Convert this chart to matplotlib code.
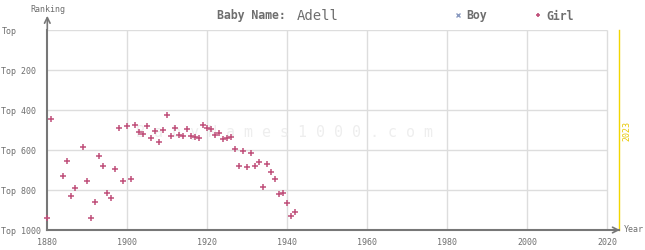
import matplotlib
matplotlib.use("Agg")
import matplotlib.pyplot as plt
from matplotlib.lines import Line2D

# girl ranks for "Adell" (no boy ranks shown)
girl_years = [1880, 1881, 1884, 1885, 1886, 1887, 1889, 1890, 1891, 1892,
              1893, 1894, 1895, 1896, 1897, 1898, 1899, 1900, 1901, 1902,
              1903, 1904, 1905, 1906, 1907, 1908, 1909, 1910, 1911, 1912,
              1913, 1914, 1915, 1916, 1917, 1918, 1919, 1920, 1921, 1922,
              1923, 1924, 1925, 1926, 1927, 1928, 1929, 1930, 1931, 1932,
              1933, 1934, 1935, 1936, 1937, 1938, 1939, 1940, 1941, 1942]
girl_ranks = [942, 447, 732, 657, 832, 792, 587, 755, 942, 862,
              632, 682, 817, 842, 697, 492, 755, 480, 747, 477,
              512, 518, 482, 542, 507, 562, 502, 427, 532, 492,
              527, 532, 497, 532, 537, 542, 477, 492, 497, 527,
              517, 547, 542, 537, 597, 682, 607, 687, 617, 682,
              662, 787, 672, 712, 747, 822, 817, 867, 932, 912]

x_ticks = [1880, 1900, 1920, 1940, 1960, 1980, 2000, 2020]
y_ticks = [0, 200, 400, 600, 800, 1000]
y_labels = ["Top", "Top 200", "Top 400", "Top 600", "Top 800", "Top 1000"]

girl_color = "#c0507a"
boy_color = "#8a9ac0"
text_color = "#6e6e6e"
grid_color = "#dddddd"
axis_color = "#777777"
mono = "DejaVu Sans Mono"

W, H = 645, 250
fig = plt.figure(figsize=(W / 100, H / 100), dpi=100)
ax = fig.add_axes([47.3 / W, 20 / H, 572 / W, 200 / H])
ax.set_xlim(1880, 2023)
ax.set_ylim(1000, 0)

# grid, stopping at 2020
ax.hlines(y_ticks[:-1], 1880, 2020, color=grid_color, lw=1, zorder=0)
ax.vlines(x_ticks[1:], 0, 1000, color=grid_color, lw=1, zorder=0)

# watermark
ax.text(1939.4, 510, "B a b y N a m e s 1 0 0 0 . c o m", fontsize=10.8,
        family=mono, color="#eeeeee", ha="center", va="center", zorder=0)

# 2023 marker line
ax.axvline(2023, color="#f2d600", lw=1, clip_on=False)
ax.text(2024.9, 505, "2023", rotation=90, fontsize=6, family=mono,
        color="#e8c800", ha="center", va="center")

ax.plot(girl_years, girl_ranks, ls="", marker="+", color=girl_color,
        markersize=4.5, mew=1.1, zorder=3, clip_on=False)

for s in ["top", "right"]:
    ax.spines[s].set_visible(False)
for s in ["left", "bottom"]:
    ax.spines[s].set_color(axis_color)
    ax.spines[s].set_linewidth(1.5)

ax.set_xticks(x_ticks)
ax.set_xticklabels([str(x) for x in x_ticks], family=mono, fontsize=6, color=text_color)
ax.set_yticks(y_ticks)
ax.set_yticklabels(y_labels, family=mono, fontsize=6, color=text_color, ha="left")
ax.tick_params(axis="x", length=0, pad=6)
ax.tick_params(axis="y", length=0, pad=33)

# axis arrows
ax.annotate("", xy=(0, 1.085), xytext=(0, 0.99), xycoords="axes fraction",
            arrowprops=dict(arrowstyle="->", color=axis_color, lw=1.2))
ax.annotate("", xy=(1.006, 0), xytext=(0.99, 0), xycoords="axes fraction",
            arrowprops=dict(arrowstyle="->", color=axis_color, lw=1.2))
fig.text(48 / W, 1 - 9 / H, "Ranking", family=mono, fontsize=6,
         color=text_color, ha="center", va="center")
fig.text(624 / W, 20 / H, "Year", family=mono, fontsize=6,
         color=text_color, ha="left", va="center")

# title
fig.text(216.7 / W, 1 - 16 / H, "Baby Name:", family=mono, fontsize=8.3,
         fontweight="bold", color=text_color, ha="left", va="center")
fig.text(296.7 / W, 1 - 15.5 / H, "Adell", family=mono, fontsize=10,
         color=text_color, ha="left", va="center")

# legend
handles = [Line2D([], [], ls="", marker="x", color=boy_color, markersize=2.5, mew=1),
           Line2D([], [], ls="", marker="+", color=girl_color, markersize=3.5, mew=1.2)]
leg = fig.legend(handles, ["Boy", "Girl"], ncol=2, frameon=False,
                 loc="center left", bbox_to_anchor=(454.5 / W, 1 - 16 / H),
                 borderpad=0, borderaxespad=0, handlelength=0.6,
                 handletextpad=0.46, columnspacing=4.1,
                 prop=dict(family=mono, size=8.3, weight="bold"))
for t in leg.get_texts():
    t.set_color(text_color)

fig.savefig("out.png", dpi=100)
